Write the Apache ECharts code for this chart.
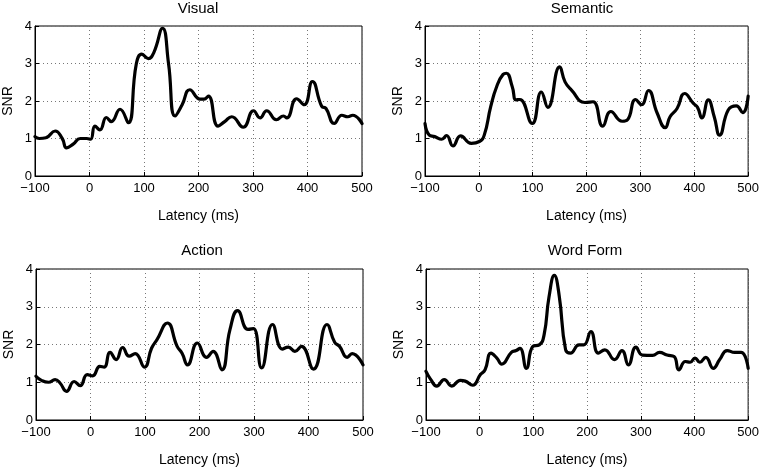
<!DOCTYPE html>
<html>
<head>
<meta charset="utf-8">
<script src="https://cdn.jsdelivr.net/npm/echarts@6/dist/echarts.min.js"></script>
<style>html,body{margin:0;padding:0;background:#fff}#c{width:762px;height:469px}</style>
</head>
<body>
<div id="c"></div>
<script>
const TITLES = ['Visual', 'Semantic', 'Action', 'Word Form'];
const X_TICKS = [-100, 0, 100, 200, 300, 400, 500];
const Y_TICKS = [0, 1, 2, 3, 4];

const LAT_VISUAL = [-100,-92,-80,-63,-50,-42,-30,-17,-5,2,10,19,31,40,56,71,86,96,108,118,134,145,157,170,184,203,210,218,236,248,261,282,301,313,325,343,356,362,380,394,409,426,434,449,463,474,483,500];
const SNR_VISUAL = [1.05,1.0,1.02,1.2,1.0,0.75,0.85,1.0,1.0,0.98,1.33,1.23,1.56,1.45,1.78,1.42,3.0,3.25,3.13,3.29,3.94,3.0,1.6,1.9,2.3,2.05,2.05,2.13,1.33,1.45,1.58,1.3,1.74,1.55,1.74,1.5,1.6,1.55,2.06,1.9,2.52,1.86,1.8,1.4,1.62,1.58,1.62,1.4];

const LAT_SEMANTIC = [-100,-92,-82,-69,-60,-48,-34,-14,1,10,22,33,45,51,62,69,76,99,116,128,150,160,172,197,212,230,245,266,276,291,302,315,331,346,355,368,382,398,406,414,426,437,447,463,478,490,500];
const SNR_SEMANTIC = [1.4,1.09,1.05,0.98,1.08,0.8,1.07,0.87,0.92,1.09,1.85,2.38,2.71,2.74,2.38,2.03,2.04,1.4,2.24,1.83,2.91,2.51,2.29,1.96,1.98,1.33,1.72,1.46,1.5,2.04,1.9,2.28,1.68,1.29,1.58,1.8,2.2,1.94,1.83,1.55,2.03,1.58,1.09,1.76,1.87,1.69,2.13];

const LAT_ACTION = [-100,-90,-77,-65,-56,-44,-30,-19,-6,4,17,25,36,47,59,71,82,99,112,122,141,159,168,178,196,213,225,241,256,270,289,299,314,334,352,363,375,387,409,434,448,457,471,480,500];
const SNR_ACTION = [1.16,1.05,1.0,1.07,0.98,0.76,1.02,0.91,1.2,1.17,1.42,1.4,1.79,1.6,1.92,1.69,1.76,1.4,1.9,2.13,2.57,1.95,1.77,1.46,2.04,1.66,1.82,1.33,2.4,2.9,2.4,2.42,1.38,2.53,1.88,1.93,1.82,1.95,1.35,2.53,2.06,1.95,1.66,1.76,1.46];

const LAT_WORDFORM = [-100,-91,-80,-66,-52,-36,-27,-13,1,10,21,32,41,59,68,75,87,99,111,120,129,139,148,160,169,185,194,207,221,233,251,265,277,291,303,322,335,349,362,371,383,392,401,410,421,435,447,461,475,487,500];
const SNR_WORDFORM = [1.29,1.07,0.9,1.07,0.9,1.05,1.03,0.92,1.2,1.33,1.77,1.64,1.48,1.79,1.84,1.9,1.37,1.95,1.99,2.26,3.25,3.83,3.3,1.86,1.77,1.99,1.99,2.34,1.77,1.86,1.6,1.84,1.46,1.93,1.72,1.71,1.79,1.72,1.68,1.33,1.55,1.53,1.64,1.53,1.66,1.37,1.6,1.84,1.79,1.79,1.37];

const LATS = [LAT_VISUAL, LAT_SEMANTIC, LAT_ACTION, LAT_WORDFORM];
const SNRS = [SNR_VISUAL, SNR_SEMANTIC, SNR_ACTION, SNR_WORDFORM];

const FONT = 'Liberation Sans';
const grids = [
  {left: 35, top: 26, width: 327, height: 150},
  {left: 425, top: 26, width: 327, height: 150},
  {left: 36, top: 269, width: 327, height: 151},
  {left: 426, top: 269, width: 327, height: 151}
];
const titleTops = [1, 1, 243, 243];
const titleCenters = [198, 582, 202, 585];

const option = {
  animation: false,
  backgroundColor: '#fff',
  title: TITLES.map((t, i) => ({
    text: t, left: titleCenters[i], top: titleTops[i], textAlign: 'center', padding: 0,
    textStyle: {fontFamily: FONT, fontSize: 15, fontWeight: 'normal', color: '#000'}
  })),
  grid: grids.map(g => Object.assign({show: true, borderColor: '#000', borderWidth: 1, backgroundColor: '#fff'}, g)),
  xAxis: grids.map((g, i) => ({
    type: 'value', gridIndex: i, min: X_TICKS[0], max: X_TICKS[X_TICKS.length - 1], interval: 100,
    name: 'Latency (ms)', nameLocation: 'middle', nameGap: 33,
    nameTextStyle: {fontFamily: FONT, fontSize: 14, color: '#000'},
    axisLine: {show: true, onZero: false, lineStyle: {color: '#000', width: 1}},
    axisTick: {show: true, inside: true, length: 4, lineStyle: {color: '#000'}},
    axisLabel: {fontFamily: FONT, fontSize: 13, color: '#000', margin: 6,
      formatter: v => String(v).replace('-', '\u2212')},
    splitLine: {show: true, lineStyle: {color: '#777', width: 1, type: [1, 3]}}
  })),
  yAxis: grids.map((g, i) => ({
    type: 'value', gridIndex: i, min: Y_TICKS[0], max: Y_TICKS[Y_TICKS.length - 1], interval: 1,
    name: 'SNR', nameLocation: 'middle', nameGap: 20,
    nameTextStyle: {fontFamily: FONT, fontSize: 14, color: '#000'},
    axisLine: {show: true, onZero: false, lineStyle: {color: '#000', width: 1}},
    axisTick: {show: true, inside: true, length: 4, lineStyle: {color: '#000'}},
    axisLabel: {fontFamily: FONT, fontSize: 13, color: '#000', margin: 3},
    splitLine: {show: true, lineStyle: {color: '#777', width: 1, type: [1, 3]}}
  })),
  series: LATS.map((lat, i) => ({
    type: 'line', xAxisIndex: i, yAxisIndex: i,
    data: lat.map((x, j) => [x, SNRS[i][j]]),
    smooth: 0.5, showSymbol: false, symbol: 'none',
    lineStyle: {color: '#000', width: 3.2, join: 'round', cap: 'round'},
    z: 5
  }))
};

const chart = echarts.init(document.getElementById('c'), null, {renderer: 'canvas'});
chart.setOption(option);
</script>
</body>
</html>
